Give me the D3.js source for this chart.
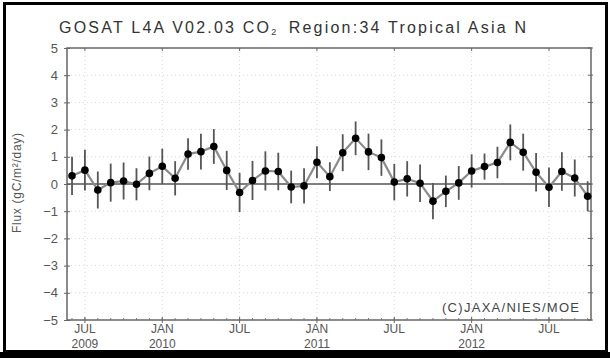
<!DOCTYPE html>
<html lang="en">
  <head>
    <meta charset="UTF-8">
    <title>GOSAT L4A CO2 flux</title>
    <script src="https://cdn.jsdelivr.net/npm/d3@7"></script>
    <style>
      body { margin: 0; background: #fff; }
      text { font-family: "Liberation Sans", Arial, sans-serif; }
    </style>
  </head>
  <body>
    <script type="text/javascript">
      let w = 610;
      let h = 358;

      // monthly series, Jun 2009 .. Oct 2012
      let months = d3.range(41);
      let flux = [0.30, 0.51, -0.22, 0.05, 0.11, -0.01, 0.39, 0.65, 0.21, 1.10, 1.19, 1.38,
                  0.50, -0.31, 0.13, 0.48, 0.46, -0.11, -0.07, 0.80, 0.27, 1.15, 1.68, 1.18,
                  0.97, 0.07, 0.19, 0.03, -0.63, -0.27, 0.04, 0.48, 0.64, 0.79, 1.53, 1.17,
                  0.43, -0.12, 0.46, 0.22, -0.45];
      let err = [0.70, 0.75, 0.68, 0.70, 0.68, 0.59, 0.62, 0.65, 0.63, 0.58, 0.66, 0.64,
                 0.72, 0.72, 0.72, 0.72, 0.69, 0.60, 0.65, 0.59, 0.53, 0.68, 0.62, 0.67,
                 0.67, 0.67, 0.65, 0.69, 0.67, 0.58, 0.62, 0.61, 0.48, 0.58, 0.66, 0.68,
                 0.71, 0.73, 0.71, 0.68, 0.55];

      let tickIdx = [1, 7, 13, 19, 25, 31, 37];
      let tickMon = ['JUL', 'JAN', 'JUL', 'JAN', 'JUL', 'JAN', 'JUL'];
      let tickYear = ['2009', '2010', '', '2011', '', '2012', ''];
      let yTicks = [-5, -4, -3, -2, -1, 0, 1, 2, 3, 4, 5];

      let pLeft = 67, pRight = 591, pTop = 48, pBottom = 320;

      let xScale = d3.scaleLinear()
                      .domain([-0.39, 40.26])
                      .range([pLeft, pRight]);
      let yScale = d3.scaleLinear()
                      .domain([-5, 5])
                      .range([pBottom, pTop]);

      let svg = d3.select('body')
                  .append('svg')
                  .attr('width', w)
                  .attr('height', h);

      // outer frame
      svg.append('rect')
          .attr('x', 4.5).attr('y', 3.5)
          .attr('width', 602).attr('height', 348)
          .attr('fill', 'none')
          .attr('stroke', '#000')
          .attr('stroke-width', 3);
      svg.append('rect')
          .attr('x', 0).attr('y', 352)
          .attr('width', w).attr('height', 6)
          .attr('fill', '#000');

      // faint dotted grid
      svg.append('g')
          .selectAll('line')
          .data(yTicks.filter(d => d !== 0 && d !== 5 && d !== -5))
          .enter()
          .append('line')
          .attr('x1', pLeft).attr('x2', pRight)
          .attr('y1', d => yScale(d)).attr('y2', d => yScale(d))
          .attr('stroke', '#d8d8d8')
          .attr('stroke-dasharray', '1,3');
      svg.append('g')
          .selectAll('line')
          .data(tickIdx)
          .enter()
          .append('line')
          .attr('x1', d => xScale(d)).attr('x2', d => xScale(d))
          .attr('y1', pTop).attr('y2', pBottom)
          .attr('stroke', '#d8d8d8')
          .attr('stroke-dasharray', '1,3');

      // plot frame
      svg.append('rect')
          .attr('x', pLeft).attr('y', pTop)
          .attr('width', pRight - pLeft).attr('height', pBottom - pTop)
          .attr('fill', 'none')
          .attr('stroke', '#666')
          .attr('stroke-width', 1.5);

      // y axis ticks and labels
      svg.append('g')
          .attr('transform', `translate(${pLeft},0)`)
          .call(d3.axisLeft(yScale).tickValues(yTicks).tickSize(4)
                  .tickFormat(d => d < 0 ? '\u2212' + Math.abs(d) : d))
          .call(g => g.select('.domain').remove())
          .call(g => g.selectAll('line').attr('stroke', '#666').attr('x2', -3).attr('x1', 3))
          .call(g => g.selectAll('text')
                      .attr('x', -9)
                      .attr('fill', '#555')
                      .attr('font-size', 13)
                      .attr('font-family', '"Liberation Sans", Arial, sans-serif'));
      svg.append('g')
          .selectAll('line')
          .data(yTicks)
          .enter()
          .append('line')
          .attr('x1', pRight - 3).attr('x2', pRight + 2)
          .attr('y1', d => yScale(d)).attr('y2', d => yScale(d))
          .attr('stroke', '#666');

      // x ticks (major + monthly minor)
      svg.append('g')
          .selectAll('line')
          .data(months)
          .enter()
          .append('line')
          .attr('x1', d => xScale(d)).attr('x2', d => xScale(d))
          .attr('y1', pBottom - 2).attr('y2', pBottom)
          .attr('stroke', '#777');
      svg.append('g')
          .selectAll('line')
          .data(tickIdx)
          .enter()
          .append('line')
          .attr('x1', d => xScale(d)).attr('x2', d => xScale(d))
          .attr('y1', pBottom - 3).attr('y2', pBottom + 3)
          .attr('stroke', '#666');
      svg.append('g')
          .selectAll('line')
          .data(tickIdx)
          .enter()
          .append('line')
          .attr('x1', d => xScale(d)).attr('x2', d => xScale(d))
          .attr('y1', pTop).attr('y2', pTop + 3)
          .attr('stroke', '#666');

      let xl = svg.append('g')
                  .selectAll('text')
                  .data(tickIdx)
                  .enter()
                  .append('text')
                  .attr('x', d => xScale(d))
                  .attr('text-anchor', 'middle')
                  .attr('fill', '#555')
                  .attr('font-size', 12);
      xl.append('tspan').attr('x', d => xScale(d)).attr('y', 333).text((d, i) => tickMon[i]);
      xl.append('tspan').attr('x', d => xScale(d)).attr('y', 347.5).text((d, i) => tickYear[i]);

      // zero line
      svg.append('line')
          .attr('x1', pLeft).attr('x2', pRight)
          .attr('y1', yScale(0)).attr('y2', yScale(0))
          .attr('stroke', '#555')
          .attr('stroke-width', 1.3);

      // connecting line
      let line = d3.line()
                   .x((d, i) => xScale(i))
                   .y(d => yScale(d));
      svg.append('path')
          .datum(flux)
          .attr('d', line)
          .attr('fill', 'none')
          .attr('stroke', '#8a8a8a')
          .attr('stroke-width', 2.2);

      // error bars
      svg.append('g')
          .selectAll('line')
          .data(flux)
          .enter()
          .append('line')
          .attr('x1', (d, i) => xScale(i)).attr('x2', (d, i) => xScale(i))
          .attr('y1', (d, i) => yScale(d + err[i]))
          .attr('y2', (d, i) => yScale(d - err[i]))
          .attr('stroke', '#555')
          .attr('stroke-width', 1.8);

      // points
      svg.append('g')
          .selectAll('circle')
          .data(flux)
          .enter()
          .append('circle')
          .attr('cx', (d, i) => xScale(i))
          .attr('cy', d => yScale(d))
          .attr('r', 3.8)
          .attr('fill', '#000');

      // titles
      let title = svg.append('text')
                     .attr('x', 59).attr('y', 33)
                     .attr('fill', '#333')
                     .attr('font-size', 16)
                     .attr('textLength', 467)
                     .attr('lengthAdjust', 'spacing');
      title.append('tspan').text('GOSAT L4A V02.03 CO');
      title.append('tspan').attr('font-size', 9).attr('dy', 2).text('2');
      title.append('tspan').attr('dy', -2).text('\u2002Region:34 Tropical Asia N');

      svg.append('text')
          .attr('transform', 'translate(21,183) rotate(-90)')
          .attr('text-anchor', 'middle')
          .attr('fill', '#555')
          .attr('font-size', 12)
          .attr('textLength', 100)
          .text('Flux (gC/m\u00b2/day)');

      svg.append('text')
          .attr('x', 579).attr('y', 312)
          .attr('text-anchor', 'end')
          .attr('fill', '#444')
          .attr('font-size', 13)
          .attr('textLength', 137)
          .text('(C)JAXA/NIES/MOE');
    </script>
  </body>
</html>
